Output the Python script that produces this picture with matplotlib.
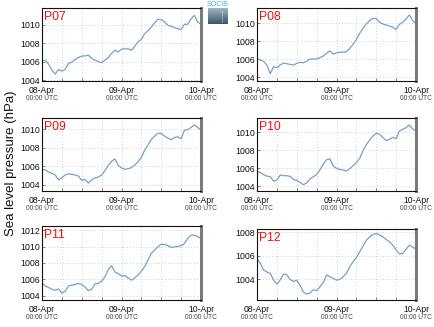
import numpy as np
import pandas as pd
import matplotlib
matplotlib.use("Agg")
import matplotlib.pyplot as plt
import matplotlib.dates as mdates

plt.rcParams['font.family'] = ['Liberation Sans', 'DejaVu Sans']

# ---------------- data ----------------
times = pd.date_range('2024-04-08 00:00', '2024-04-10 00:00', freq='h')

stations = ['P07', 'P08', 'P09', 'P10', 'P11', 'P12']

p07 = [1006.05, 1006.16, 1005.72, 1005.08, 1004.65, 1005.15, 1004.97, 1005.15, 1005.80, 1005.94,
       1006.23, 1006.44, 1006.59, 1006.62, 1006.70, 1006.34, 1006.16, 1005.98, 1005.90, 1006.16,
       1006.44, 1006.87, 1007.23, 1007.05, 1007.34, 1007.38, 1007.38, 1007.23, 1007.66, 1008.13,
       1008.42, 1009.03, 1009.32, 1009.75, 1010.18, 1010.58, 1010.54, 1010.29, 1009.93, 1009.82,
       1009.68, 1009.57, 1009.46, 1010.04, 1010.04, 1010.65, 1011.00, 1010.29, 1010.04]
p08 = [1006.11, 1005.93, 1005.78, 1005.37, 1004.40, 1005.19, 1005.07, 1005.37, 1005.59, 1005.52,
       1005.44, 1005.37, 1005.56, 1005.67, 1005.63, 1005.81, 1006.04, 1006.04, 1006.04, 1006.19,
       1006.37, 1006.67, 1006.95, 1006.59, 1006.74, 1006.78, 1006.81, 1006.85, 1007.22, 1007.67,
       1008.22, 1008.89, 1009.44, 1009.93, 1010.30, 1010.56, 1010.52, 1010.11, 1009.93, 1009.81,
       1009.70, 1009.56, 1009.33, 1009.89, 1010.11, 1010.48, 1010.93, 1010.30, 1010.00]
p09 = [1005.68, 1005.61, 1005.39, 1005.25, 1005.07, 1004.54, 1004.79, 1005.07, 1005.21, 1005.14,
       1005.07, 1004.96, 1004.50, 1004.61, 1004.21, 1004.57, 1004.75, 1004.86, 1005.07, 1005.54,
       1006.11, 1006.54, 1006.80, 1006.11, 1005.82, 1005.68, 1005.75, 1005.86, 1006.14, 1006.50,
       1006.96, 1007.75, 1008.32, 1008.89, 1009.25, 1009.57, 1009.54, 1009.25, 1009.04, 1008.86,
       1009.11, 1009.18, 1008.96, 1009.89, 1009.96, 1010.18, 1010.46, 1010.18, 1009.89]
p10 = [1005.60, 1005.53, 1005.27, 1005.12, 1005.04, 1004.56, 1004.67, 1005.23, 1005.16, 1005.16,
       1005.08, 1004.75, 1004.63, 1004.41, 1004.15, 1004.34, 1004.82, 1005.04, 1005.27, 1005.79,
       1006.46, 1006.94, 1007.05, 1006.24, 1005.98, 1005.86, 1005.79, 1005.68, 1005.94, 1006.27,
       1006.61, 1007.09, 1007.95, 1008.62, 1009.14, 1009.59, 1009.89, 1009.78, 1009.44, 1009.07,
       1009.22, 1009.44, 1009.29, 1010.15, 1010.34, 1010.52, 1010.82, 1010.37, 1010.15]
p11 = [1005.59, 1005.19, 1005.03, 1004.80, 1004.68, 1004.84, 1004.35, 1004.56, 1005.23, 1005.31,
       1005.39, 1005.51, 1005.39, 1005.07, 1004.64, 1004.80, 1005.47, 1005.51, 1005.79, 1006.31,
       1007.18, 1007.66, 1006.91, 1006.71, 1006.43, 1006.47, 1006.19, 1005.91, 1006.19, 1006.55,
       1006.99, 1007.58, 1008.38, 1009.17, 1009.57, 1009.97, 1010.29, 1010.25, 1010.13, 1009.89,
       1009.97, 1010.01, 1010.09, 1010.37, 1011.00, 1011.36, 1011.40, 1011.20, 1011.00]
p12 = [1005.77, 1005.34, 1004.77, 1004.60, 1004.49, 1003.91, 1003.57, 1003.91, 1004.43, 1004.37,
       1003.97, 1003.80, 1003.89, 1003.46, 1002.89, 1002.71, 1002.80, 1003.09, 1003.00, 1003.34,
       1003.69, 1004.34, 1004.20, 1004.06, 1003.91, 1003.97, 1004.20, 1004.49, 1005.06, 1005.49,
       1005.86, 1006.34, 1006.83, 1007.34, 1007.63, 1007.83, 1007.91, 1007.80, 1007.63, 1007.40,
       1007.20, 1006.91, 1006.49, 1006.17, 1006.20, 1006.57, 1006.91, 1006.74, 1006.57]
series = [p07, p08, p09, p10, p11, p12]

y_limits = [(1003.9, 1011.8), (1003.6, 1011.7), (1003.35, 1011.2),
            (1003.45, 1011.6), (1003.5, 1012.5), (1002.2, 1008.3)]
y_ticks = [[1004, 1006, 1008, 1010]] * 4 + [[1004, 1006, 1008, 1010, 1012], [1004, 1006, 1008]]

day_ticks = pd.to_datetime(['2024-04-08', '2024-04-09', '2024-04-10'])
day_labels = ['08-Apr', '09-Apr', '10-Apr']
time_label = '00:00 UTC'
grid_ticks = pd.date_range('2024-04-08 00:00', '2024-04-10 00:00', freq='6h')

# ---------------- layout (pixels) ----------------
W, H = 435, 327
fig = plt.figure(figsize=(W / 100, H / 100), dpi=100)

# left, right, top, bottom in pixels
boxes = [(42, 201, 8, 81), (257, 416, 8, 81),
         (42, 201, 118, 191), (257, 416, 118, 191),
         (42, 201, 226, 300), (257, 416, 229, 300)]

line_color = '#76a0cb'

for name, vals, (l, r, t, b), ylim, yt in zip(stations, series, boxes, y_limits, y_ticks):
    ax = fig.add_axes([l / W, 1 - b / H, (r - l) / W, (b - t) / H])
    ax.plot(times, vals, color=line_color, lw=0.9)
    ax.set_xlim(times[0], times[-1])
    ax.set_ylim(*ylim)
    ax.set_yticks(yt)
    ax.set_yticklabels([str(v) for v in yt], fontsize=6.3, color='#111111')

    ax.set_xticks(grid_ticks)
    labels = []
    for g in grid_ticks:
        labels.append(day_labels[list(day_ticks).index(g)] if g in day_ticks else '')
    ax.set_xticklabels(labels, fontsize=6.2, color='#111111')
    ax.tick_params(axis='both', direction='in', length=2, width=0.5, color='#555555')
    ax.tick_params(axis='x', pad=3.5)
    ax.tick_params(axis='y', pad=1.5)

    for d in day_ticks:
        ax.annotate(time_label, xy=(mdates.date2num(d), 0), xycoords=('data', 'axes fraction'),
                    xytext=(0, -12.5), textcoords='offset points', ha='center', va='center',
                    fontsize=4.8, color='#444444', annotation_clip=False)

    ax.grid(True, color='#c4c4c4', linestyle=(0, (1, 2.5)), lw=0.6)
    for s in ['left', 'top', 'bottom']:
        ax.spines[s].set_color('#111111')
        ax.spines[s].set_linewidth(0.8)
    ax.spines['right'].set_color('#7a7a7a')
    ax.spines['right'].set_linewidth(2.2)

    ax.text(0.015, 0.96, name, transform=ax.transAxes, ha='left', va='top',
            fontsize=8.8, color='#ee1111')

fig.text(11 / W, 1 - 163 / H, 'Sea level pressure (hPa)', rotation=90,
         ha='center', va='center', fontsize=9.5, color='#111111')

# small logo
lax = fig.add_axes([208 / W, 1 - 24 / H, 20 / W, 16 / H])
grad = np.linspace(0, 1, 50).reshape(-1, 1)
lax.imshow(grad, aspect='auto', cmap=matplotlib.colors.LinearSegmentedColormap.from_list(
    'logo', ['#9fb6c4', '#3c5566']), extent=[0, 1, 0, 1], origin='upper')
lax.plot([0.72, 0.72], [0.15, 0.9], color='white', lw=0.6, linestyle=(0, (1, 1.5)))
lax.set_xlim(0, 1)
lax.set_ylim(0, 1)
lax.axis('off')
fig.text(218 / W, 1 - 4.5 / H, 'SOCIB', ha='center', va='center', fontsize=5,
         color='#3fb8d6')

fig.savefig('out.png', dpi=100)
